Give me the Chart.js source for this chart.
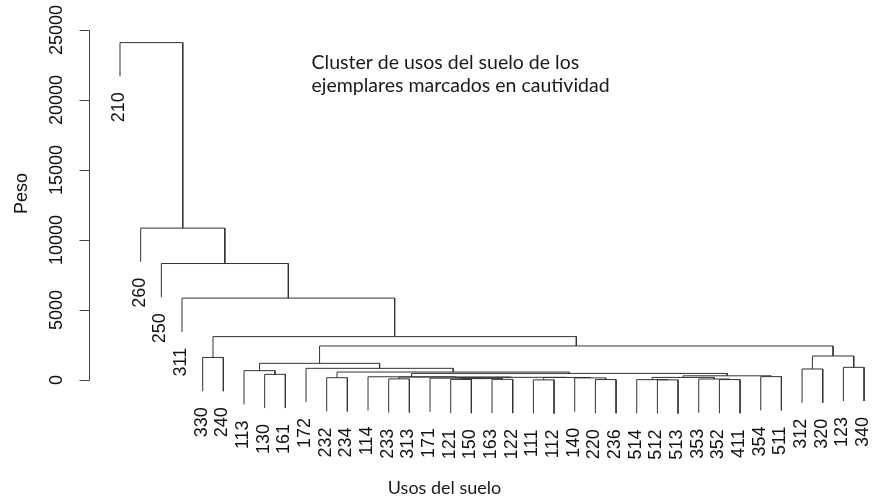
<!DOCTYPE html>
<html>
<head>
<meta charset="utf-8">
<script src="https://cdn.jsdelivr.net/npm/chart.js@4.4.0/dist/chart.umd.min.js"></script>
<style>
html, body { margin: 0; padding: 0; background: #fff; }
#wrap { width: 874px; height: 500px; }
</style>
</head>
<body>
<div id="wrap"><canvas id="chart" width="874" height="500"></canvas></div>
<script>
// leaves in the order they are drawn
const leafLabels = ['210', '260', '250', '311', '330', '240', '113', '130', '161', '172',
  '232', '234', '114', '233', '313', '171', '121', '150', '163', '122', '111', '112',
  '140', '220', '236', '514', '512', '513', '353', '352', '411', '354', '511',
  '312', '320', '123', '340'];

// merges like R's hclust: negative = leaf number (1-based), positive = earlier merge row
const mergeLeft = [-21, -27, -26, -24, -30, -17, -19, -29, -14, 6, -16, -23, -11, 1, 3, 11,
  9, -32, -13, 15, -8, 19, 13, -7, -34, -10, -36, 24, -5, 25, 28, 29, -4, -3, -2, -1];
const mergeRight = [-22, -28, 2, -25, -31, -18, -20, 5, -15, 7, 10, 4, -12, 12, 8, 14,
  16, -33, 17, 18, -9, 20, 22, 21, -35, 23, -37, 26, -6, 27, 30, 31, 32, 33, 34, 35];
const mergeHeights = [10, 10, 25, 30, 30, 40, 45, 70, 80, 100, 130, 150, 165, 180, 185, 190,
  210, 240, 230, 300, 405, 470, 570, 667, 786, 833, 905, 1190, 1610, 1715, 2430, 3100,
  5850, 8320, 10850, 24100];

const yTicks = [0, 5000, 10000, 15000, 20000, 25000];
const hang = 0.1;
const titleLines = ['Cluster de usos del suelo de los', 'ejemplares marcados en cautividad'];
const xTitle = 'Usos del suelo';
const yTitle = 'Peso';

// build the brackets
const hangAmount = hang * Math.max(...mergeHeights);
const nodeX = [];
const leafY = new Array(leafLabels.length);
const segments = [];
function childX(c) { return c < 0 ? -c - 1 : nodeX[c - 1]; }
mergeHeights.forEach((h, i) => {
    const l = mergeLeft[i], r = mergeRight[i];
    const xl = childX(l), xr = childX(r);
    const yl = l < 0 ? h - hangAmount : mergeHeights[l - 1];
    const yr = r < 0 ? h - hangAmount : mergeHeights[r - 1];
    if (l < 0) leafY[-l - 1] = yl;
    if (r < 0) leafY[-r - 1] = yr;
    nodeX.push((xl + xr) / 2);
    segments.push({x: xl, y: yl}, {x: xl, y: h}, {x: xr, y: h}, {x: xr, y: yr}, {x: xr, y: null});
});

const dendroText = {
    id: 'dendroText',
    afterDraw(chart) {
        const c = chart.ctx;
        const xs = chart.scales.x, ys = chart.scales.y;
        c.save();
        c.strokeStyle = '#444';
        c.fillStyle = '#111';
        c.lineWidth = 1;

        // y axis
        const ax = 89.5;
        c.beginPath();
        c.moveTo(ax, Math.round(ys.getPixelForValue(yTicks[0])) + 0.5);
        c.lineTo(ax, Math.round(ys.getPixelForValue(yTicks[yTicks.length - 1])) + 0.5);
        yTicks.forEach(t => {
            const py = Math.round(ys.getPixelForValue(t)) + 0.5;
            c.moveTo(ax, py);
            c.lineTo(ax - 10, py);
        });
        c.stroke();

        c.font = '18px "Liberation Sans", Arial, sans-serif';
        c.textBaseline = 'alphabetic';
        yTicks.forEach(t => {
            c.save();
            c.translate(62, ys.getPixelForValue(t));
            c.rotate(-Math.PI / 2);
            c.textAlign = 'center';
            c.fillText(String(t), 0, 0);
            c.restore();
        });

        c.save();
        c.translate(27, 193.5);
        c.rotate(-Math.PI / 2);
        c.textAlign = 'center';
        c.fillText(yTitle, 0, 0);
        c.restore();

        // leaf labels
        leafLabels.forEach((lab, i) => {
            c.save();
            c.translate(xs.getPixelForValue(i) + 4, ys.getPixelForValue(leafY[i]) + 16);
            c.rotate(-Math.PI / 2);
            c.textAlign = 'right';
            c.fillText(lab, 0, 0);
            c.restore();
        });

        // titles
        c.font = '19.5px Lato, sans-serif';
        c.fillStyle = '#1a1a1a';
        c.textAlign = 'left';
        c.fillText(titleLines[0], 311.5, 69);
        c.fillText(titleLines[1], 311.5, 91.5);
        c.font = '18px Lato, sans-serif';
        c.textAlign = 'center';
        c.fillText(xTitle, 444.5, 494);
        c.restore();
    }
};

const ctx = document.getElementById('chart').getContext('2d');
const myChart = new Chart(ctx, {
    type: 'line',
    data: {
        datasets: [{
            data: segments,
            borderColor: '#333',
            borderWidth: 1,
            pointRadius: 0,
            spanGaps: false,
            tension: 0
        }]
    },
    options: {
        responsive: false,
        animation: false,
        layout: { padding: { left: 89, right: 0, top: 30, bottom: 80 } },
        plugins: { legend: { display: false }, tooltip: { enabled: false } },
        scales: {
            x: { type: 'linear', display: false, min: -1.5, max: 36.48 },
            y: { type: 'linear', display: false, min: -2857.14, max: 25000 }
        }
    },
    plugins: [dendroText]
});
</script>
</body>
</html>
